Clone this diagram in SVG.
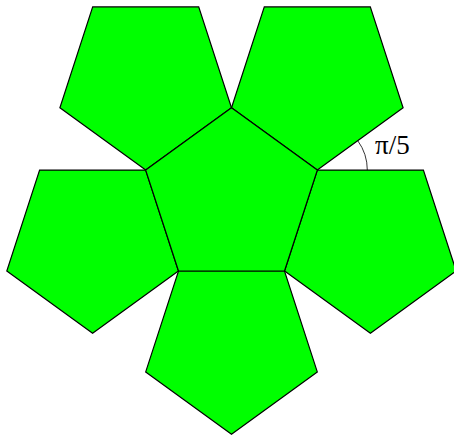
<svg xmlns="http://www.w3.org/2000/svg" width="454" height="436" viewBox="0 0 454 436">
<style>
.p{fill:#00ff00;stroke:#000;stroke-width:1.2;stroke-linejoin:miter}
.arc{fill:none;stroke:#000;stroke-width:0.8}
.lbl{font-family:"Liberation Serif","Times New Roman",serif;font-size:27px;fill:#000}
</style>
<rect width="454" height="436" fill="#fff"/>
<g id="top-left"><polygon class="p" points="231.5,107.8 145.7,170.1 59.9,107.8 92.7,6.9 198.7,6.9"/></g>
<g id="top-right"><polygon class="p" points="403.1,107.8 317.3,170.1 231.5,107.8 264.3,6.9 370.3,6.9"/></g>
<g id="left"><polygon class="p" points="178.4,271 92.6,333.3 6.8,271 39.6,170.1 145.6,170.1"/></g>
<g id="right"><polygon class="p" points="456.2,271 370.4,333.3 284.6,271 317.4,170.1 423.4,170.1"/></g>
<g id="bottom"><polygon class="p" points="317.3,371.9 231.5,434.2 145.7,371.9 178.5,271 284.5,271"/></g>
<g id="center"><polygon class="p" points="231.5,107.8 317.3,170.1 284.5,271 178.5,271 145.7,170.1"/></g>
<g id="connectors">
<path class="arc" d="M367.3,170.1 A50,50 0 0 0 357.75,140.7"/>
</g>
<text class="lbl" x="375" y="154">π/5</text>
</svg>
